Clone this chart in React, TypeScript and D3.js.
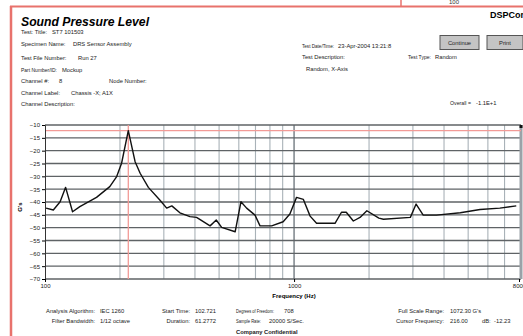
import { useEffect, useRef } from "react";
import * as d3 from "d3";

// spectrum (Hz, dB)
const freqs = [101, 108, 115, 121, 129, 138, 161, 182, 194, 203, 216, 230, 241, 260, 289, 308, 323, 348, 382, 406, 460, 487, 512, 580, 612, 645, 697, 730, 813, 904, 962, 1023, 1090, 1160, 1231, 1460, 1550, 1620, 1730, 1840, 1960, 2190, 2285, 2930, 3090, 3300, 3730, 4650, 5580, 6700, 7800];
const levels = [-42.4, -43.1, -39.9, -34.3, -43.8, -41.8, -38.2, -34, -30.1, -24.9, -12.23, -24.3, -28.8, -34.3, -39.2, -42.4, -41.5, -44.2, -45.7, -46, -49.3, -47, -49.9, -51.6, -39.9, -42.4, -45.1, -49.3, -49.3, -47.7, -44.7, -38.2, -39, -45.5, -48.3, -48.3, -44, -44, -47.4, -46, -43.4, -46.3, -46.7, -46, -40.8, -45.1, -45.1, -44.2, -42.9, -42.4, -41.5];

const yTicks = [-10, -15, -20, -25, -30, -35, -40, -45, -50, -55, -60, -65, -70];
const xTickLabels = [100, 1000, 8000];
const xGrid = [200, 300, 400, 500, 600, 700, 800, 900, 1000, 2000, 3000, 4000, 5000, 6000, 7000];
const cursorFreq = 216;
const cursorDb = -12.23;

const headerLabels = ["Test: Title:", "Specimen Name:", "Test File Number:", "Part Number/ID:", "Channel #:", "Channel Label:", "Channel Description:"];
const headerValues = ["ST7 101503", "DRS Sensor Assembly", "Run 27", "Mockup", "8", "Chassis -X; A1X", ""];

const W = 523;
const H = 336;
const margin = { left: 45, right: 4, top: 125, bottom: 57 };
const red = "#e8726c";
const font = "Liberation Sans, Arial, sans-serif";

export default function App() {
  const svgRef = useRef<SVGSVGElement>(null);

  useEffect(() => {
    const svg = d3.select(svgRef.current);
    svg.selectAll("*").remove();
    svg.style("font-family", font);

    svg.append("rect").attr("width", W).attr("height", H).attr("fill", "#fff");

    // window frame bits
    svg.append("line").attr("x1", 401).attr("x2", 401).attr("y1", 0).attr("y2", 6)
      .attr("stroke", red).attr("stroke-width", 1.5);
    svg.append("text").attr("x", 454).attr("y", 4).attr("font-size", 6)
      .attr("text-anchor", "middle").attr("fill", "#333").text("100");
    svg.append("line").attr("x1", 10).attr("x2", W).attr("y1", 6.5).attr("y2", 6.5)
      .attr("stroke", red).attr("stroke-width", 2);
    svg.append("line").attr("x1", 11).attr("x2", 11).attr("y1", 6).attr("y2", H)
      .attr("stroke", red).attr("stroke-width", 2.5);

    // header
    svg.append("text").attr("x", 21).attr("y", 26).attr("font-size", 12.2)
      .attr("font-weight", "bold").attr("font-style", "italic")
      .text("Sound Pressure Level");
    svg.append("text").attr("x", 490).attr("y", 18).attr("font-size", 9)
      .attr("font-weight", "bold").text("DSPCorp");

    const small = (x: number, y: number, t: string, anchor = "start", bold = false) =>
      svg.append("text").attr("x", x).attr("y", y).attr("font-size", 5.8)
        .attr("text-anchor", anchor).attr("fill", "#222")
        .attr("font-weight", bold ? "bold" : "normal").text(t);

    // label squeezed so that it ends before its value
    const label = (x: number, y: number, t: string, maxW: number) => {
      const el = small(x, y, t);
      const w = (el.node() as SVGTextElement).getComputedTextLength();
      if (w > maxW) el.attr("textLength", maxW).attr("lengthAdjust", "spacingAndGlyphs");
      return el;
    };

    const rowY = [34, 46, 60, 72, 83, 95, 106];
    const valX = [52, 73, 78, 62, 59, 71, 0];
    headerLabels.forEach((t, i) => {
      if (headerValues[i]) {
        label(21, rowY[i], t, valX[i] - 21 - 5);
        small(valX[i], rowY[i], headerValues[i]);
      } else {
        small(21, rowY[i], t);
      }
    });
    small(109, 83, "Node Number:");

    label(302, 48, "Test Date/Time:", 32);
    small(338, 48, "23-Apr-2004 13:21:8");
    small(302, 59, "Test Description:");
    label(408, 59, "Test Type:", 23);
    small(435, 59, "Random");
    small(306, 71, "Random, X-Axis");
    label(450, 105, "Overall =", 21);
    small(476, 105, "-1.1E+1");

    // buttons
    [["Continue", 440, 39], ["Print", 487, 36]].forEach(([t, x, w]) => {
      svg.append("rect").attr("x", x as number).attr("y", 35.5).attr("width", w as number)
        .attr("height", 14).attr("fill", "#c4c4c4").attr("stroke", "#555").attr("stroke-width", 1);
      svg.append("text").attr("x", (x as number) + (w as number) / 2).attr("y", 45)
        .attr("font-size", 5.8).attr("text-anchor", "middle").attr("fill", "#222").text(t as string);
    });

    // chart
    const xScale = d3.scaleLog().domain([100, 8000]).range([margin.left, 519]);
    const yScale = d3.scaleLinear().domain([-70, -10]).range([H - margin.bottom, margin.top]);
    const g = svg.append("g");

    g.selectAll(".vgrid").data(xGrid).join("line")
      .attr("x1", (d) => xScale(d)).attr("x2", (d) => xScale(d))
      .attr("y1", yScale(-10)).attr("y2", yScale(-70))
      .attr("stroke", (d) => (d === 1000 ? "#737c82" : "#a9b2b8"))
      .attr("stroke-width", (d) => (d === 1000 ? 1.4 : 1.1));

    g.selectAll(".hgrid").data(yTicks).join("line")
      .attr("x1", margin.left).attr("x2", 521)
      .attr("y1", (d) => yScale(d)).attr("y2", (d) => yScale(d))
      .attr("stroke", "#5f6366").attr("stroke-width", 1.3);

    // right edge bar
    g.append("rect").attr("x", 519.5).attr("y", yScale(-10)).attr("width", 3)
      .attr("height", yScale(-70) - yScale(-10)).attr("fill", "#9aa2a8");
    g.append("rect").attr("x", 519.5).attr("y", yScale(-10)).attr("width", 3)
      .attr("height", 3).attr("fill", "#111");

    // cursor
    g.append("line").attr("x1", xScale(cursorFreq)).attr("x2", xScale(cursorFreq))
      .attr("y1", yScale(-10)).attr("y2", yScale(-70)).attr("stroke", "#f29a96").attr("stroke-width", 1.3);
    g.append("line").attr("x1", margin.left).attr("x2", 521)
      .attr("y1", yScale(cursorDb)).attr("y2", yScale(cursorDb)).attr("stroke", "#f29a96").attr("stroke-width", 1.3);

    // axes
    const yAxis = g.append("g").attr("transform", `translate(${margin.left},0)`)
      .call(d3.axisLeft(yScale).tickValues(yTicks).tickSize(3).tickPadding(2));
    yAxis.select(".domain").attr("stroke", "#333");
    yAxis.selectAll("text").attr("font-size", 6).attr("fill", "#222").attr("font-family", font);

    const xAxis = g.append("g").attr("transform", `translate(0,${yScale(-70)})`)
      .call(d3.axisBottom(xScale).tickValues(xTickLabels).tickFormat(d3.format("d")).tickSize(3).tickPadding(2));
    xAxis.select(".domain").remove();
    xAxis.selectAll("text").attr("font-size", 6).attr("fill", "#222").attr("font-family", font);

    g.append("text").attr("transform", `translate(22,207) rotate(-90)`)
      .attr("text-anchor", "middle").attr("font-size", 6).attr("font-weight", "bold").text("G's");
    g.append("text").attr("x", 294).attr("y", 298).attr("text-anchor", "middle")
      .attr("font-size", 6).attr("font-weight", "bold").text("Frequency (Hz)");

    const line = d3.line<number>()
      .x((_, i) => xScale(freqs[i]))
      .y((d) => yScale(d));
    g.append("path").datum(levels).attr("fill", "none").attr("stroke", "#111")
      .attr("stroke-width", 1.4).attr("stroke-linejoin", "round").attr("d", line);

    // footer
    small(95, 313, "Analysis Algorithm:", "end");
    small(100, 313, "IEC 1260");
    small(95, 323, "Filter Bandwidth:", "end");
    small(100, 323, "1/12 octave");
    small(190, 313, "Start Time:", "end");
    small(195, 313, "102.721");
    small(190, 323, "Duration:", "end");
    small(195, 323, "61.2772");
    label(236, 313, "Degrees of Freedom:", 38);
    small(284, 313, "708");
    label(236, 323, "Sample Rate:", 25);
    small(269, 323, "20000 S/Sec.");
    small(236, 334, "Company Confidential", "start", true);
    small(444, 313, "Full Scale Range:", "end");
    small(450, 313, "1072.30 G's");
    small(444, 323, "Cursor Frequency:", "end");
    small(450, 323, "216.00");
    small(482, 323, "dB:");
    small(494, 323, "-12.23");
  }, []);

  return (
    <svg ref={svgRef} width={W} height={H}
      style={{ position: "fixed", left: 0, top: 0, display: "block" }} />
  );
}
